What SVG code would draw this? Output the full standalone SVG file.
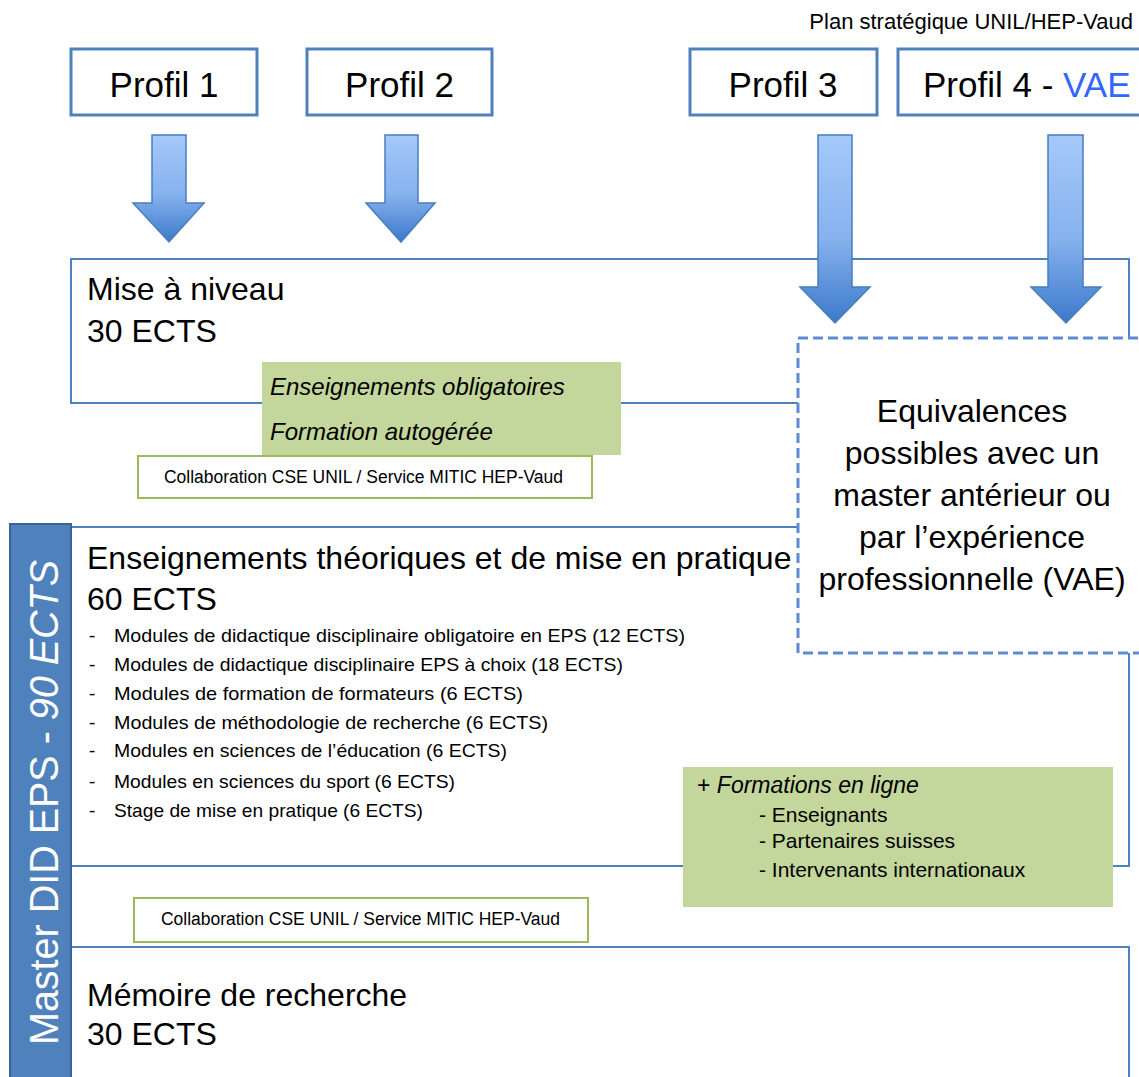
<svg xmlns="http://www.w3.org/2000/svg" width="1139" height="1077" viewBox="0 0 1139 1077">
<style>
  text { font-family: "Liberation Sans", Arial, sans-serif; fill: #000; }
  .profil { fill: #fff; stroke: #4F81BD; stroke-width: 3; }
  .ptxt { font-size: 35px; text-anchor: middle; }
  .box { fill: #fff; stroke: #4F81BD; stroke-width: 2; }
  .big { font-size: 32px; }
  .green { fill: #C3D69B; }
  .collab { fill: #fff; stroke: #9BBB59; stroke-width: 2; }
  .ctxt { font-size: 18px; }
  .bul { font-size: 19px; }
  .arrow { fill: url(#ag); stroke: #4A7EBB; stroke-width: 1.5; }
  .it { font-style: italic; }
</style>
<defs>
  <linearGradient id="ag" x1="0" y1="0" x2="0" y2="1">
    <stop offset="0" stop-color="#A5C9FA"/>
    <stop offset="0.55" stop-color="#86B2EE"/>
    <stop offset="1" stop-color="#3C79CB"/>
  </linearGradient>
</defs>
<rect width="1139" height="1077" fill="#fff"/>

<text x="1133" y="29" font-size="22" text-anchor="end">Plan stratégique UNIL/HEP-Vaud</text>

<g id="mise-a-niveau">
  <rect class="box" x="71" y="259" width="1058" height="144"/>
  <text class="big" x="87" y="300">Mise à niveau</text>
  <text class="big" x="87" y="342">30 ECTS</text>
</g>

<g id="enseignements">
  <rect class="box" x="71" y="527" width="1058" height="339"/>
  <text class="big" x="87" y="569">Enseignements théoriques et de mise en pratique</text>
  <text class="big" x="87" y="610">60 ECTS</text>
  <g class="bul">
    <text x="89" y="642">-</text><text x="114" y="642" textLength="571" lengthAdjust="spacingAndGlyphs">Modules de didactique disciplinaire obligatoire en EPS (12 ECTS)</text>
    <text x="89" y="671">-</text><text x="114" y="671" textLength="509" lengthAdjust="spacingAndGlyphs">Modules de didactique disciplinaire EPS à choix (18 ECTS)</text>
    <text x="89" y="700">-</text><text x="114" y="700" textLength="409" lengthAdjust="spacingAndGlyphs">Modules de formation de formateurs (6 ECTS)</text>
    <text x="89" y="729">-</text><text x="114" y="729" textLength="434" lengthAdjust="spacingAndGlyphs">Modules de méthodologie de recherche (6 ECTS)</text>
    <text x="89" y="757">-</text><text x="114" y="757" textLength="393" lengthAdjust="spacingAndGlyphs">Modules en sciences de l’éducation (6 ECTS)</text>
    <text x="89" y="788">-</text><text x="114" y="788" textLength="341" lengthAdjust="spacingAndGlyphs">Modules en sciences du sport (6 ECTS)</text>
    <text x="89" y="817">-</text><text x="114" y="817" textLength="309" lengthAdjust="spacingAndGlyphs">Stage de mise en pratique (6 ECTS)</text>
  </g>
</g>

<g id="memoire">
  <rect class="box" x="71" y="947" width="1058" height="140"/>
  <text class="big" x="87" y="1006">Mémoire de recherche</text>
  <text class="big" x="87" y="1045">30 ECTS</text>
</g>

<g id="master-sidebar">
  <rect x="10" y="524" width="61" height="560" fill="#4F81BD" stroke="#3A6496" stroke-width="2"/>
  <text transform="translate(58,1045) rotate(-90)" font-size="40" style="fill:#fff" textLength="485" lengthAdjust="spacingAndGlyphs">Master DID EPS - <tspan class="it" style="fill:#fff">90 ECTS</tspan></text>
</g>

<g id="green-obligatoires">
  <rect class="green" x="262" y="362" width="359" height="93"/>
  <text class="it" x="270" y="395" font-size="24">Enseignements obligatoires</text>
  <text class="it" x="270" y="440" font-size="24">Formation autogérée</text>
</g>

<g id="collab-1">
  <rect class="collab" x="138" y="456" width="454" height="42"/>
  <text class="ctxt" x="164" y="483" textLength="399" lengthAdjust="spacingAndGlyphs">Collaboration CSE UNIL / Service MITIC HEP-Vaud</text>
</g>

<g id="collab-2">
  <rect class="collab" x="134" y="898" width="454" height="44"/>
  <text class="ctxt" x="161" y="925" textLength="399" lengthAdjust="spacingAndGlyphs">Collaboration CSE UNIL / Service MITIC HEP-Vaud</text>
</g>

<g id="formations-en-ligne">
  <rect class="green" x="683" y="767" width="430" height="140"/>
  <text x="697" y="793" font-size="23">+ <tspan class="it">Formations en ligne</tspan></text>
  <text x="759" y="822" font-size="21">- Enseignants</text>
  <text x="759" y="848" font-size="21">- Partenaires suisses</text>
  <text x="759" y="877" font-size="21">- Intervenants internationaux</text>
</g>

<g id="profil-1">
  <rect class="profil" x="71" y="49" width="186" height="66"/>
  <text class="ptxt" x="164" y="97">Profil 1</text>
</g>
<g id="profil-2">
  <rect class="profil" x="307" y="49" width="185" height="66"/>
  <text class="ptxt" x="399.5" y="97">Profil 2</text>
</g>
<g id="profil-3">
  <rect class="profil" x="690" y="49" width="187" height="66"/>
  <text class="ptxt" x="783" y="97">Profil 3</text>
</g>
<g id="profil-4">
  <rect class="profil" x="898" y="49" width="260" height="66"/>
  <text x="923" y="97" font-size="35">Profil 4 - <tspan style="fill:#3366FF">VAE</tspan></text>
</g>

<g id="connectors">
  <path class="arrow" d="M152,135 H186 V203 H204 L169,242 L133,203 H152 Z"/>
  <path class="arrow" d="M385,135 H418 V203 H435 L401,242 L366,203 H385 Z"/>
  <path class="arrow" d="M818,135 H852 V287 H870 L835,323 L800,287 H818 Z"/>
  <path class="arrow" d="M1048,135 H1083 V287 H1101 L1066,323 L1031,287 H1048 Z"/>
</g>

<g id="equivalences">
  <rect x="798" y="338" width="360" height="315" fill="#fff" stroke="#5B8CD3" stroke-width="3" stroke-dasharray="10,5"/>
  <g font-size="32" text-anchor="middle">
    <text x="972" y="422">Equivalences</text>
    <text x="972" y="464">possibles avec un</text>
    <text x="972" y="506">master antérieur ou</text>
    <text x="972" y="548">par l’expérience</text>
    <text x="972" y="590">professionnelle (VAE)</text>
  </g>
</g>
</svg>
